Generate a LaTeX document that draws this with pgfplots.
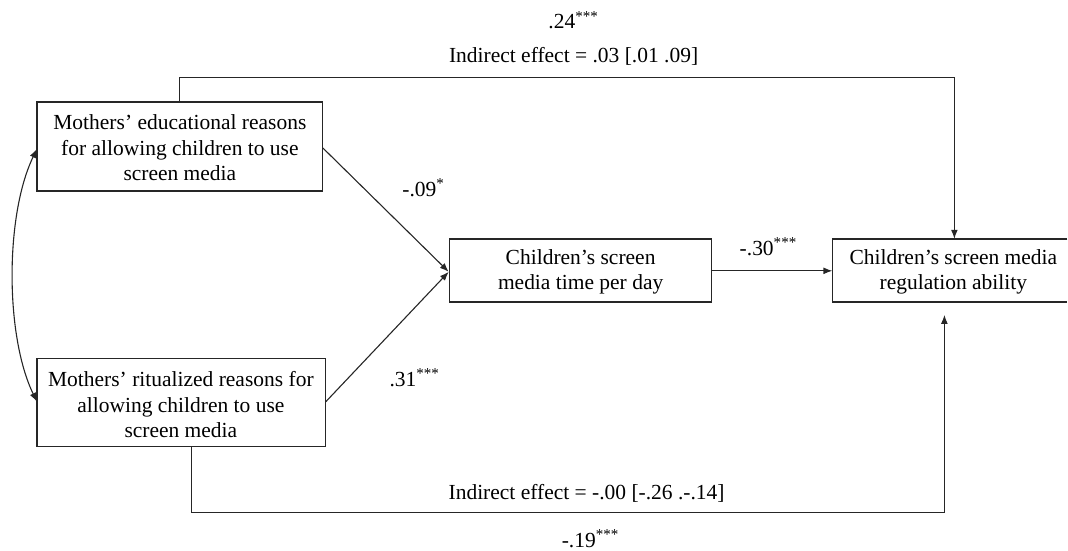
\documentclass[border=0pt]{standalone}
\usepackage{pgfplots}
\pgfplotsset{compat=1.18}
\usepackage{fontspec}
\setmainfont{Liberation Serif}
\usetikzlibrary{arrows.meta}
\begin{document}
\begin{tikzpicture}[every node/.style={font=\fontsize{10.75}{12.85}\selectfont, inner sep=0pt}]
\begin{axis}[
  width=534pt, height=275.5pt, scale only axis,
  xmin=0, xmax=1068, ymin=0, ymax=551, y dir=reverse,
  hide axis, clip=false,
  every axis plot/.append style={black!85, line width=0.55pt, mark=none, line join=miter},
]
\path (axis cs:0,0) rectangle (axis cs:1068,551);
% boxes
\addplot[line width=0.7pt] coordinates {(37,102) (323,102) (323,191) (37,191) (37,102)} -- cycle;
\addplot[line width=0.7pt] coordinates {(37,359) (326,359) (326,447) (37,447) (37,359)} -- cycle;
\addplot[line width=0.7pt] coordinates {(450,239) (712,239) (712,302) (450,302) (450,239)} -- cycle;
\addplot[line width=0.7pt] coordinates {(1068,239) (833,239) (833,302) (1068,302)};
% paths
\addplot[-{Latex[length=4.5pt,width=3.4pt]}] coordinates {(180,102) (180,78) (955,78) (955,239)};
\addplot[-{Latex[length=4.5pt,width=3.4pt]}] coordinates {(192,447) (192,513) (945,513) (945,315)};
\addplot[-{Latex[length=4.5pt,width=3.4pt]}] coordinates {(323,148) (449,272)};
\addplot[-{Latex[length=4.5pt,width=3.4pt]}] coordinates {(326,402) (449,272)};
\addplot[-{Latex[length=4.5pt,width=3.4pt]}] coordinates {(712,271) (833,271)};
\draw[black!85, line width=0.55pt, {Latex[length=4.5pt,width=3.4pt]}-{Latex[length=4.5pt,width=3.4pt]}]
  (axis cs:37,149) .. controls (axis cs:5,215) and (axis cs:5,336) .. (axis cs:37,402);
% box texts
\node[align=center] at (axis cs:180,148) {Mothers’ educational reasons\\for allowing children to use\\screen media};
\node[align=center] at (axis cs:181,405) {Mothers’ ritualized reasons for\\allowing children to use\\screen media};
\node[align=center] at (axis cs:581,272) {Children’s screen\\media time per day};
\node[align=center] at (axis cs:954,272) {Children’s screen media\\regulation ability};
% labels
\node[anchor=base] at (axis cs:574,29) {.24\textsuperscript{***}};
\node[anchor=base] at (axis cs:574,63) {Indirect effect = .03 [.01 .09]};
\node[anchor=base] at (axis cs:769,256) {-.30\textsuperscript{***}};
\node[anchor=base] at (axis cs:424,197) {-.09\textsuperscript{*}};
\node[anchor=base] at (axis cs:415,387) {.31\textsuperscript{***}};
\node[anchor=base] at (axis cs:587,500) {Indirect effect = -.00 [-.26 .-.14]};
\node[anchor=base] at (axis cs:591,548) {-.19\textsuperscript{***}};
\end{axis}
\end{tikzpicture}
\end{document}
